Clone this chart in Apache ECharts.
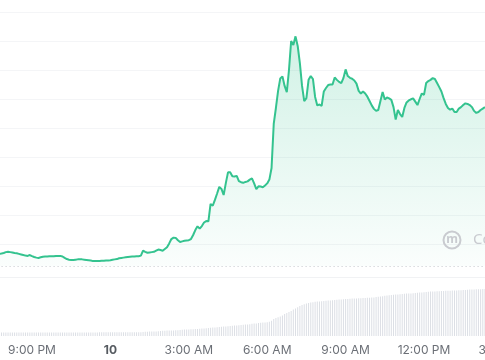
<!DOCTYPE html>
<html>
<head>
<meta charset="utf-8">
<script src="https://cdn.jsdelivr.net/npm/echarts@6/dist/echarts.min.js"></script>
<style>
html,body{margin:0;padding:0;background:#fff;}
#chart{width:485px;height:360px;}
</style>
</head>
<body>
<div id="chart"></div>
<script>
// Time axis: hours counted from 00:00 of the 9th (24 = midnight of the 10th)
const startHour = 19.75;      // first sample
const stepMinutes = 5;        // sample spacing
const tickHours = [21, 24, 27, 30, 33, 36, 39];
const tickLabels = ['9:00 PM', '10', '3:00 AM', '6:00 AM', '9:00 AM', '12:00 PM', '3:00 PM'];

// Price (arbitrary units)
const prices = [
6.6,6.7,6.9,7.2,7.3,7.2,7.1,6.9,6.8,6.6,6.4,6.2,6.0,5.9,6.2,5.8,5.5,5.3,5.2,5.4,
5.6,5.7,5.7,5.8,5.8,5.8,5.9,5.9,5.9,5.7,5.2,4.8,4.6,4.5,4.5,4.6,4.7,4.7,4.7,4.6,
4.5,4.4,4.3,4.1,4.1,4.1,4.1,4.2,4.2,4.3,4.3,4.4,4.6,4.7,4.8,5.1,5.2,5.3,5.4,5.5,
5.6,5.7,5.7,5.8,5.8,6.0,7.7,7.3,7.0,7.1,7.2,7.3,7.7,8.1,7.9,7.7,8.3,8.9,10.2,11.7,
12.2,12.1,11.3,10.7,10.9,11.1,11.2,11.3,11.7,13.1,14.8,16.1,15.3,16.2,17.4,17.9,17.8,23.8,23.2,25.2,
27.4,29.7,29.0,26.9,31.0,34.7,34.7,33.4,33.3,33.5,31.7,31.3,31.1,31.4,31.6,32.2,32.6,30.9,28.9,29.9,
29.8,29.6,30.2,30.9,32.2,36.2,51.4,56.9,62.8,67.1,67.8,64.5,62.4,70.0,80.0,78.6,81.6,78.3,72.4,64.5,
59.3,60.3,66.6,67.9,66.9,60.7,57.8,58.1,57.6,62.6,63.8,64.8,65.0,65.0,67.4,66.6,65.9,65.5,67.2,70.2,
67.9,67.3,67.0,66.4,65.3,62.8,61.9,62.6,61.9,60.8,59.3,57.8,56.6,55.9,56.2,59.3,62.4,59.8,60.5,60.2,
59.7,57.2,52.9,56.2,54.8,53.8,56.9,58.8,59.5,59.9,60.2,59.1,57.9,60.0,61.9,61.4,65.5,66.2,66.6,67.2,
66.9,65.5,64.1,62.6,60.3,58.3,56.9,56.3,56.7,55.5,55.5,56.7,57.2,57.9,58.5,58.3,57.9,57.2,55.9,55.2,
55.5,56.2,56.7,57.2
];

// Volume bars (arbitrary units)
const volumes = [
1.7,1.7,1.7,1.7,1.7,1.7,1.7,1.7,1.7,1.7,1.7,1.7,1.7,1.7,1.7,1.7,1.7,1.7,1.7,1.7,
1.7,1.8,1.8,1.8,1.8,1.8,1.8,1.8,1.8,1.8,1.8,1.8,1.8,1.8,1.8,1.8,1.8,1.8,1.8,1.8,
1.8,1.8,1.8,1.8,1.8,1.8,1.9,1.9,1.9,1.9,1.9,1.9,1.9,1.9,1.9,1.9,1.9,1.9,1.9,1.9,
1.9,1.9,1.9,1.9,1.9,1.9,2.0,2.1,2.1,2.2,2.2,2.3,2.3,2.4,2.5,2.6,2.6,2.7,2.7,2.8,
2.8,2.9,2.9,3.0,3.1,3.2,3.2,3.3,3.4,3.4,3.5,3.5,3.6,3.7,3.8,3.9,4.0,4.1,4.2,4.3,
4.4,4.5,4.6,4.7,4.8,4.9,5.0,5.1,5.2,5.3,5.4,5.5,5.6,5.7,5.8,5.9,6.1,6.2,6.3,6.5,
6.6,6.7,6.8,6.9,7.1,7.6,8.5,9.0,9.4,9.7,10.3,11.0,11.5,12.0,12.5,13.2,13.8,14.4,15.0,15.5,
15.9,16.2,16.5,16.7,16.9,17.1,17.2,17.3,17.4,17.5,17.6,17.7,17.8,17.9,18.0,18.1,18.2,18.3,18.4,18.5,
18.5,18.6,18.7,18.8,18.8,18.9,18.9,19.0,19.0,19.1,19.1,19.2,19.3,19.5,19.6,19.8,19.9,20.1,20.2,20.4,
20.5,20.6,20.7,20.8,20.9,21.0,21.1,21.2,21.2,21.3,21.4,21.5,21.6,21.7,21.8,21.9,22.0,22.1,22.2,22.3,
22.3,22.4,22.4,22.5,22.5,22.6,22.6,22.6,22.7,22.8,22.8,22.9,22.9,23.0,23.0,23.1,23.2,23.3,23.3,23.4,
23.4,23.4,23.5,23.5
];

const hourOf = i => startHour + i * stepMinutes / 60;
const priceData = prices.map((v, i) => [hourOf(i), v]);
const volumeData = volumes.map((v, i) => [hourOf(i), v]);

const green = '#34c38f';
const chart = echarts.init(document.getElementById('chart'), null, {renderer: 'canvas'});

const xCommon = {
  type: 'value', min: 18, max: 42, interval: 3,
  splitLine: {show: false}, axisTick: {show: false}, axisLine: {show: false}
};
const gridCommon = {left: -46.4, right: -95.8, containLabel: false, outerBoundsMode: 'none'};

chart.setOption({
  animation: false,
  backgroundColor: '#ffffff',
  grid: [
    Object.assign({top: 12, bottom: 87}, gridCommon),
    Object.assign({top: 277, bottom: 24}, gridCommon)
  ],
  xAxis: [
    Object.assign({gridIndex: 0, axisLabel: {show: false}}, xCommon),
    Object.assign({gridIndex: 1, axisLabel: {
      show: true, margin: 8, fontSize: 12, color: '#6b6f76', fontFamily: 'Inter, "Noto Sans", sans-serif',
      hideOverlap: false,
      formatter: v => {
        const k = tickHours.indexOf(v);
        if (k < 0) return '';
        return k === 1 ? '{b|' + tickLabels[k] + '}' : tickLabels[k];
      },
      rich: {b: {fontWeight: 'bold', color: '#555a60', fontSize: 12, fontFamily: 'Inter, "Noto Sans", sans-serif'}}
    }}, xCommon)
  ],
  yAxis: [
    {gridIndex: 0, type: 'value', min: 0, max: 90, interval: 10,
     axisLabel: {show: false}, axisLine: {show: false}, axisTick: {show: false},
     splitLine: {show: true, showMinLine: false, lineStyle: {color: '#f4f5f7', width: 1}}},
    {gridIndex: 1, type: 'value', min: 0, max: 29.5, interval: 29.5,
     axisLabel: {show: false}, axisLine: {show: false}, axisTick: {show: false},
     splitLine: {show: true, showMinLine: false, lineStyle: {color: '#f1f2f4', width: 1}}}
  ],
  series: [
    {
      type: 'bar', xAxisIndex: 1, yAxisIndex: 1, data: volumeData,
      barWidth: 1, itemStyle: {color: '#dcdfe5'}, silent: true
    },
    {
      type: 'line', xAxisIndex: 0, yAxisIndex: 0, data: priceData,
      showSymbol: false, smooth: false,
      lineStyle: {color: green, width: 2},
      areaStyle: {
        origin: 2.4,
        color: new echarts.graphic.LinearGradient(0, 0, 0, 1, [
          {offset: 0, color: 'rgba(52,195,143,0.32)'},
          {offset: 1, color: 'rgba(52,195,143,0.03)'}
        ])
      },
      markLine: {
        silent: true, symbol: 'none', label: {show: false},
        lineStyle: {color: '#c4c7cc', type: [1, 3], width: 1},
        data: [{yAxis: 2.4}]
      },
      z: 3
    }
  ],
  graphic: [
    {type: 'circle', shape: {cx: 452, cy: 240, r: 8.5},
     style: {fill: 'none', stroke: '#c9cbd0', lineWidth: 2}, z: 10},
    {type: 'text', x: 452, y: 240,
     style: {text: 'm', fill: '#c9cbd0', font: 'bold 12px "Noto Sans", sans-serif', align: 'center', verticalAlign: 'middle'}, z: 10},
    {type: 'text', x: 473, y: 240,
     style: {text: 'CoinGecko', fill: '#c9cbd0', font: '15px "Noto Sans", sans-serif', verticalAlign: 'middle'}, z: 10}
  ]
});
</script>
</body>
</html>
